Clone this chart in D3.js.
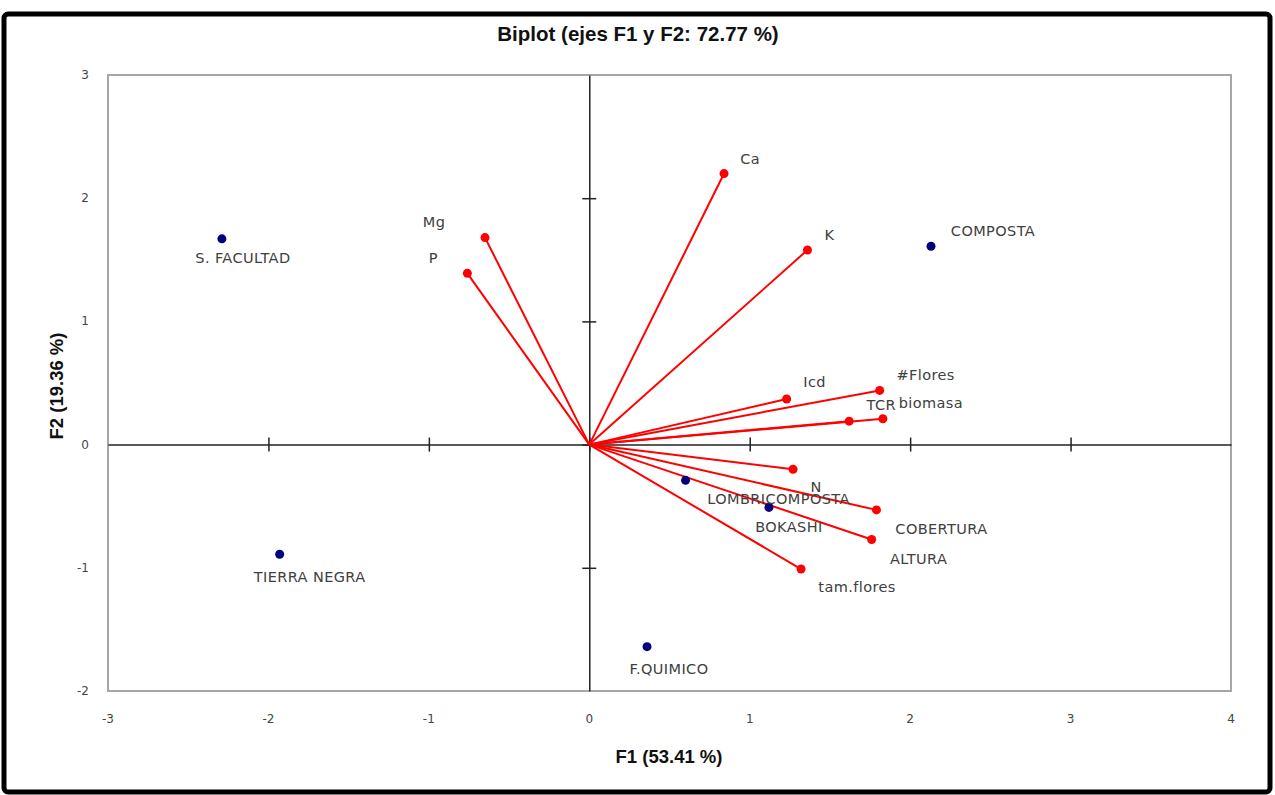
<!DOCTYPE html>
<html>
<head>
<meta charset="utf-8">
<script src="https://cdn.jsdelivr.net/npm/d3@7"></script>
<style>
  body { margin: 0; background: #fff; }
  svg { display: block; }
  .lbl { font-family: "DejaVu Sans", Verdana, sans-serif; font-size: 14.5px; fill: #404040; letter-spacing: 0.4px; }
  .tick-lbl { font-family: "DejaVu Sans", sans-serif; font-size: 12px; fill: #444; }
  .ttl { font-family: "Liberation Sans Narrow", "Liberation Sans", Arial, sans-serif; font-weight: bold; fill: #111; }
</style>
</head>
<body>
<div id="chart"></div>
<script>
let width = 1275;
let height = 795;
let margin = { top: 75, left: 108, right: 44, bottom: 104 };

// observations (F1, F2)
let obsNames = ["S. FACULTAD", "COMPOSTA", "TIERRA NEGRA", "F.QUIMICO", "LOMBRICOMPOSTA", "BOKASHI"];
let obsF1 = [-2.29, 2.13, -1.93, 0.36, 0.6, 1.12];
let obsF2 = [1.67, 1.61, -0.89, -1.64, -0.29, -0.51];

// variables (F1, F2)
let varNames = ["Ca", "K", "Mg", "P", "Icd", "#Flores", "TCR", "biomasa", "N", "COBERTURA", "ALTURA", "tam.flores"];
let varF1 = [0.84, 1.36, -0.65, -0.76, 1.23, 1.81, 1.62, 1.83, 1.27, 1.79, 1.76, 1.32];
let varF2 = [2.2, 1.58, 1.68, 1.39, 0.37, 0.44, 0.19, 0.21, -0.2, -0.53, -0.77, -1.01];

let xTicks = [-3, -2, -1, 0, 1, 2, 3, 4];
let yTicks = [-2, -1, 0, 1, 2, 3];

// label offsets in px from the point (layout only)
let labelOffset = {
  "S. FACULTAD": [21, 24], "COMPOSTA": [62, -10], "TIERRA NEGRA": [30, 28],
  "F.QUIMICO": [22, 27], "LOMBRICOMPOSTA": [93, 24], "BOKASHI": [20, 25],
  "Ca": [26, -10], "K": [22, -10], "Mg": [-51, -11], "P": [-34, -10],
  "Icd": [28, -12], "#Flores": [46, -10], "TCR": [32, -11], "biomasa": [48, -11],
  "N": [23, 23], "COBERTURA": [65, 24], "ALTURA": [47, 25], "tam.flores": [56, 23]
};

let svg = d3.select("#chart").append("svg").attr("width", width).attr("height", height);

// outer frame
svg.append("rect")
  .attr("x", 4).attr("y", 14).attr("width", 1266).attr("height", 778)
  .attr("rx", 4)
  .attr("fill", "#fff").attr("stroke", "#000").attr("stroke-width", 5);

let x = d3.scaleLinear().domain([-3, 4]).range([margin.left, width - margin.right]);
let y = d3.scaleLinear().domain([-2, 3]).range([height - margin.bottom, margin.top]);

// plot frame
svg.append("rect")
  .attr("x", x(-3)).attr("y", y(3))
  .attr("width", x(4) - x(-3)).attr("height", y(-2) - y(3))
  .attr("fill", "none").attr("stroke", "#a6a6a6").attr("stroke-width", 2);

// axes through origin
svg.append("g")
  .attr("transform", `translate(0,${y(0)})`)
  .call(d3.axisBottom(x).tickValues(xTicks.filter(d => d > -3 && d < 4)).tickSizeInner(7).tickSizeOuter(0).tickFormat(""))
  .call(g => g.selectAll(".tick line").attr("y1", -7).attr("stroke", "#222").attr("stroke-width", 1.5))
  .call(g => g.select(".domain").attr("stroke", "#222").attr("stroke-width", 1.5));

svg.append("g")
  .attr("transform", `translate(${x(0)},0)`)
  .call(d3.axisLeft(y).tickValues(yTicks.filter(d => d > -2 && d < 3)).tickSizeInner(7).tickSizeOuter(0).tickFormat(""))
  .call(g => g.selectAll(".tick line").attr("x1", 7).attr("stroke", "#222").attr("stroke-width", 1.5))
  .call(g => g.select(".domain").attr("stroke", "#222").attr("stroke-width", 1.5));

// tick labels along the frame
svg.append("g").selectAll("text")
  .data(xTicks).enter().append("text")
  .attr("class", "tick-lbl")
  .attr("x", d => x(d)).attr("y", y(-2) + 32)
  .attr("text-anchor", "middle")
  .text(d => d);

svg.append("g").selectAll("text")
  .data(yTicks).enter().append("text")
  .attr("class", "tick-lbl")
  .attr("x", x(-3) - 19).attr("y", d => y(d) + 4)
  .attr("text-anchor", "end")
  .text(d => d);

// titles
svg.append("text").attr("class", "ttl")
  .attr("x", 638).attr("y", 41).attr("text-anchor", "middle")
  .style("font-size", "20.5px")
  .text("Biplot (ejes F1 y F2: 72.77 %)");

svg.append("text").attr("class", "ttl")
  .attr("x", 669).attr("y", 763).attr("text-anchor", "middle")
  .style("font-size", "18.5px")
  .text("F1 (53.41 %)");

svg.append("text").attr("class", "ttl")
  .attr("transform", "translate(63,386) rotate(-90)")
  .attr("text-anchor", "middle")
  .style("font-size", "18.5px")
  .text("F2 (19.36 %)");

// variable vectors
let vars = varNames.map((n, i) => ({ name: n, f1: varF1[i], f2: varF2[i] }));
let obs = obsNames.map((n, i) => ({ name: n, f1: obsF1[i], f2: obsF2[i] }));

svg.append("g").selectAll("line")
  .data(vars).enter().append("line")
  .attr("x1", x(0)).attr("y1", y(0))
  .attr("x2", d => x(d.f1)).attr("y2", d => y(d.f2))
  .attr("stroke", "#ff0000").attr("stroke-width", 2);

svg.append("g").selectAll("circle")
  .data(vars).enter().append("circle")
  .attr("cx", d => x(d.f1)).attr("cy", d => y(d.f2))
  .attr("r", 4.5).attr("fill", "#ff0000");

// observations
svg.append("g").selectAll("circle")
  .data(obs).enter().append("circle")
  .attr("cx", d => x(d.f1)).attr("cy", d => y(d.f2))
  .attr("r", 4.5).attr("fill", "#00007f");

// labels
svg.append("g").selectAll("text")
  .data(obs.concat(vars)).enter().append("text")
  .attr("class", "lbl")
  .attr("x", d => x(d.f1) + labelOffset[d.name][0])
  .attr("y", d => y(d.f2) + labelOffset[d.name][1])
  .attr("text-anchor", "middle")
  .text(d => d.name);
</script>
</body>
</html>
